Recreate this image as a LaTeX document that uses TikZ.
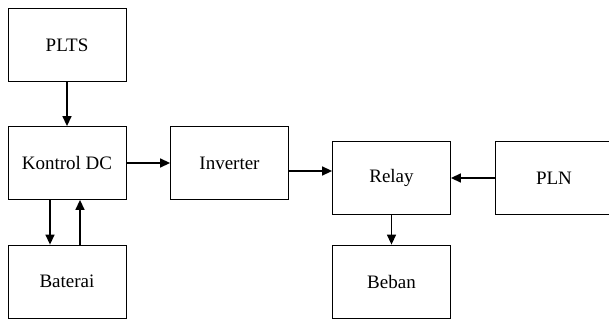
\documentclass[tikz,border=0pt]{standalone}
\usepackage{fontspec}
\newfontfamily\blokfont{Liberation Serif}
\usetikzlibrary{arrows.meta}

\tikzset{
  blok/.style={draw=black, line width=0.8pt, minimum width=118pt, minimum height=73pt, inner sep=0pt, font=\blokfont\fontsize{19}{23}\selectfont},
  panah/.style={line width=1.4pt, -{Triangle[length=10pt,width=9pt]}}
}

\begin{document}
\begin{tikzpicture}[x=1pt,y=-1pt]
\useasboundingbox (0,0) rectangle (609,320);

\node[blok] (plts) at (67,45) {PLTS};
\node[blok] (kontrol) at (67,163) {Kontrol DC};
\node[blok] (baterai) at (67,281.5) {Baterai};
\node[blok] (inverter) at (229.5,163) {Inverter};
\node[blok] (relay) at (391.5,178) {Relay};
\node[blok] (pln) at (554,178) {PLN};
\node[blok] (beban) at (391.5,281.5) {Beban};

\draw[panah] (plts) -- (kontrol);
\draw[panah] (kontrol) -- (inverter);
\draw[panah] ([yshift=-8pt]inverter.east) -- ([yshift=-8pt]inverter.east -| relay.west);
\draw[panah] (pln) -- (relay);
\draw[panah] (relay) -- (beban);
\draw[panah] ([xshift=-17pt]kontrol.south) -- ([xshift=-17pt]baterai.north);
\draw[panah] ([xshift=13pt]baterai.north) -- ([xshift=13pt]kontrol.south);
\end{tikzpicture}
\end{document}
